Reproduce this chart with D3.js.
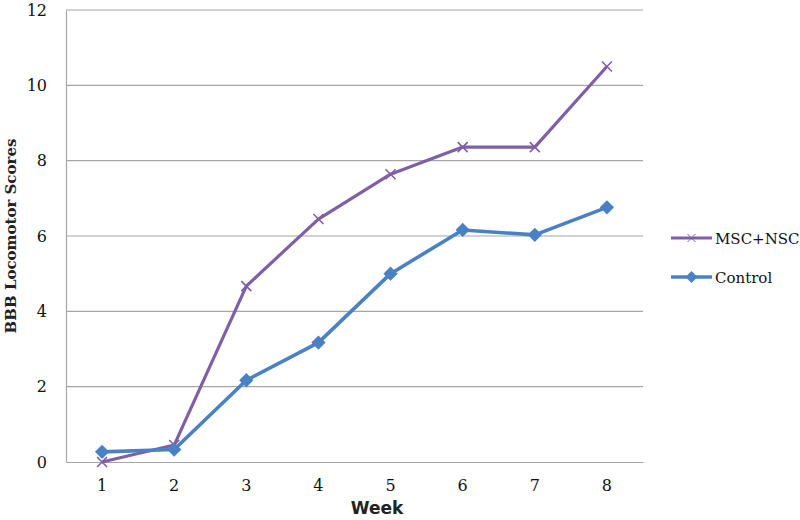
<!DOCTYPE html>
<html><head><meta charset="utf-8">
<script src="https://cdn.jsdelivr.net/npm/d3@7"></script>
<style>body{margin:0;background:#fff}</style>
</head><body>
<svg id="c" width="800" height="520"></svg>
<script>
const weeks = ["1","2","3","4","5","6","7","8"];
const mscNsc = [0, 0.45, 4.67, 6.45, 7.64, 8.36, 8.36, 10.5];
const control = [0.27, 0.33, 2.17, 3.17, 5.0, 6.16, 6.03, 6.76];
const yTicks = [0, 2, 4, 6, 8, 10, 12];
const seriesNames = ["MSC+NSC", "Control"];

const svg = d3.select("#c");
const m = {l:66, r:643, t:10, b:462};
const x = d3.scaleBand().domain(weeks).range([m.l, m.r]);
const y = d3.scaleLinear().domain([0, 12]).range([m.b, m.t]);
const cx = d => x(d) + x.bandwidth()/2;
const serif = "'DejaVu Serif',serif";
const sans = "'DejaVu Sans','Open Sans',sans-serif";

// gridlines
svg.append("g").selectAll("line").data(yTicks.filter(t=>t>0)).join("line")
  .attr("x1", m.l).attr("x2", m.r).attr("y1", d=>y(d)).attr("y2", d=>y(d))
  .attr("stroke", "#a6a6a6").attr("stroke-width", 1.2);

// y axis
const ya = svg.append("g").attr("transform", `translate(${m.l},0)`)
  .call(d3.axisLeft(y).tickValues(yTicks).tickSize(0).tickPadding(19));
ya.attr("font-family", serif).attr("font-size", 16);
ya.select(".domain").attr("stroke", "#a6a6a6").attr("stroke-width", 1.2);
ya.selectAll("text").style("font-family", serif).style("font-size", "16px").attr("fill", "#111");

// x axis
const xa = svg.append("g").attr("transform", `translate(0,${m.b})`)
  .call(d3.axisBottom(x).tickSize(0).tickPadding(18));
xa.attr("font-family", serif).attr("font-size", 16);
xa.select(".domain").attr("stroke", "#a6a6a6").attr("stroke-width", 1.2);
xa.selectAll("text").style("font-family", serif).style("font-size", "16px").attr("fill", "#111");

// axis titles
svg.append("text").attr("x", 377).attr("y", 514).attr("text-anchor", "middle")
  .style("font-family", sans).attr("font-weight", "bold").style("font-size", "17px").attr("fill", "#222").text("Week");
svg.append("text").attr("transform", "translate(16,236) rotate(-90)").attr("text-anchor", "middle")
  .style("font-family", serif).attr("font-weight", "bold").style("font-size", "15px").attr("fill", "#222").text("BBB Locomotor Scores");

const purple = "#7f5fa6", blue = "#4a81c4";
const line = d3.line().x((d,i)=>cx(weeks[i])).y(d=>y(d));

// MSC+NSC
svg.append("path").datum(mscNsc).attr("d", line).attr("fill","none")
  .attr("stroke", purple).attr("stroke-width", 3.2).attr("stroke-linejoin","round");
const xMark = (g, px, py, s, w) => g.append("path")
  .attr("d", `M${px-s},${py-s}L${px+s},${py+s}M${px-s},${py+s}L${px+s},${py-s}`)
  .attr("stroke", purple).attr("stroke-width", w);
const gx = svg.append("g");
mscNsc.forEach((v,i)=>xMark(gx, cx(weeks[i]), y(v), 5, 1.6));

// Control
svg.append("path").datum(control).attr("d", line).attr("fill","none")
  .attr("stroke", blue).attr("stroke-width", 3.6).attr("stroke-linejoin","round");
const diamond = d3.symbol().type(d3.symbolDiamond2).size(130);
svg.append("g").selectAll("path").data(control).join("path")
  .attr("d", diamond).attr("transform", (d,i)=>`translate(${cx(weeks[i])},${y(d)})`)
  .attr("fill", blue);

// legend
const lg = svg.append("g");
const ly = [238, 277];
lg.append("line").attr("x1",671).attr("x2",712).attr("y1",ly[0]).attr("y2",ly[0]).attr("stroke",purple).attr("stroke-width",3.2);
xMark(lg, 691.5, ly[0], 4, 1);
lg.append("line").attr("x1",671).attr("x2",712).attr("y1",ly[1]).attr("y2",ly[1]).attr("stroke",blue).attr("stroke-width",3.6);
lg.append("path").attr("d", d3.symbol().type(d3.symbolDiamond2).size(90)).attr("transform",`translate(691.5,${ly[1]})`).attr("fill",blue);
lg.selectAll("text").data(seriesNames).join("text")
  .attr("x", 715).attr("y", (d,i)=>ly[i]+6).style("font-family", serif).style("font-size", "15px").attr("fill","#111").text(d=>d);
</script>
</body></html>
